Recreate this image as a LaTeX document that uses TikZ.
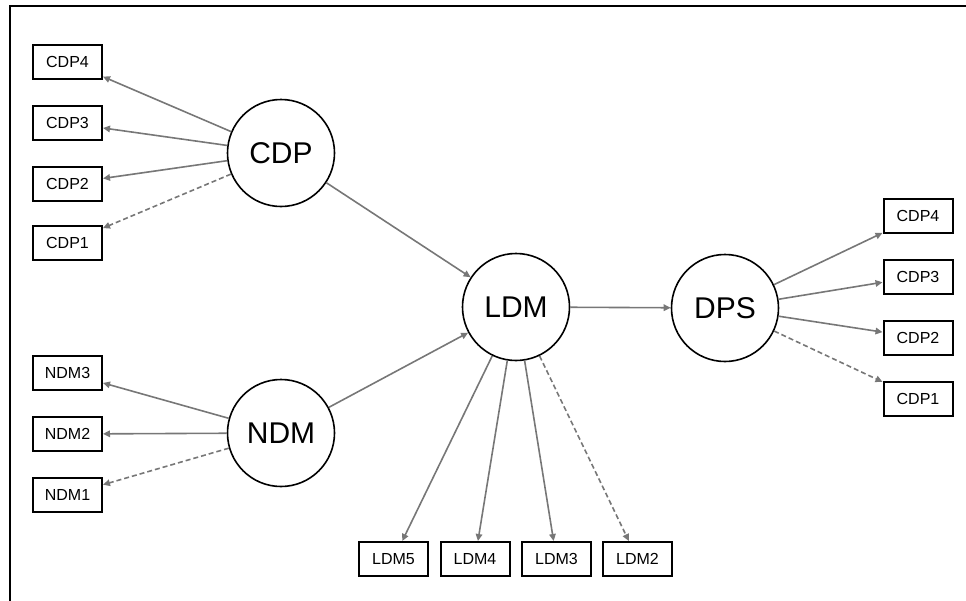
\documentclass[tikz,border=0pt]{standalone}
\usepackage{fontspec}
\setmainfont{Liberation Sans}
\usetikzlibrary{arrows.meta}
\definecolor{arrgray}{HTML}{777777}
\tikzset{
  hub/.style={circle, draw=black, line width=1.6pt, minimum size=107pt, inner sep=0pt,
    font=\fontsize{30}{34}\selectfont},
  leaf/.style={rectangle, draw=black, line width=2pt, minimum width=69pt, minimum height=34pt,
    inner sep=0pt, font=\fontsize{16}{19}\selectfont},
  conn/.style={draw=arrgray, line width=1.6pt, -{Triangle[length=7pt,width=6.5pt]}},
  opt/.style={conn, dash pattern=on 5pt off 3pt},
}
\begin{document}
\begin{tikzpicture}[x=1pt,y=-1pt]
\useasboundingbox (0,0) rectangle (966,600);
\draw[line width=2pt] (10,601) -- (10,6) -- (967,6);

\node[hub] (cdp) at (281,153) {CDP};
\node[hub] (ndm) at (281,433) {NDM};
\node[hub] (ldm) at (516,307) {LDM};
\node[hub] (dps) at (725,308) {DPS};

\node[leaf] (cdp4) at (67.5,61.5) {CDP4};
\node[leaf] (cdp3) at (67.5,123) {CDP3};
\node[leaf] (cdp2) at (67.5,183.5) {CDP2};
\node[leaf] (cdp1) at (67.5,243) {CDP1};

\node[leaf] (ndm3) at (67.5,373) {NDM3};
\node[leaf] (ndm2) at (67.5,434) {NDM2};
\node[leaf] (ndm1) at (67.5,495) {NDM1};

\node[leaf] (ldm5) at (393.5,559) {LDM5};
\node[leaf] (ldm4) at (475,559) {LDM4};
\node[leaf] (ldm3) at (556.5,559) {LDM3};
\node[leaf] (ldm2) at (637.5,559) {LDM2};

\node[leaf] (dcdp4) at (918,216) {CDP4};
\node[leaf] (dcdp3) at (918,276.5) {CDP3};
\node[leaf] (dcdp2) at (918,337.5) {CDP2};
\node[leaf] (dcdp1) at (918,398.5) {CDP1};

\draw[conn] (cdp) -- (cdp4);
\draw[conn] (cdp) -- (cdp3);
\draw[conn] (cdp) -- (cdp2);
\draw[opt] (cdp) -- (cdp1);

\draw[conn] (ndm) -- (ndm3);
\draw[conn] (ndm) -- (ndm2);
\draw[opt] (ndm) -- (ndm1);

\draw[conn] (cdp) -- (ldm);
\draw[conn] (ndm) -- (ldm);
\draw[conn] (ldm) -- (dps);

\draw[conn] (ldm) -- (ldm5);
\draw[conn] (ldm) -- (ldm4);
\draw[conn] (ldm) -- (ldm3);
\draw[opt] (ldm) -- (ldm2);

\draw[conn] (dps) -- (dcdp4);
\draw[conn] (dps) -- (dcdp3);
\draw[conn] (dps) -- (dcdp2);
\draw[opt] (dps) -- (dcdp1);
\end{tikzpicture}
\end{document}
